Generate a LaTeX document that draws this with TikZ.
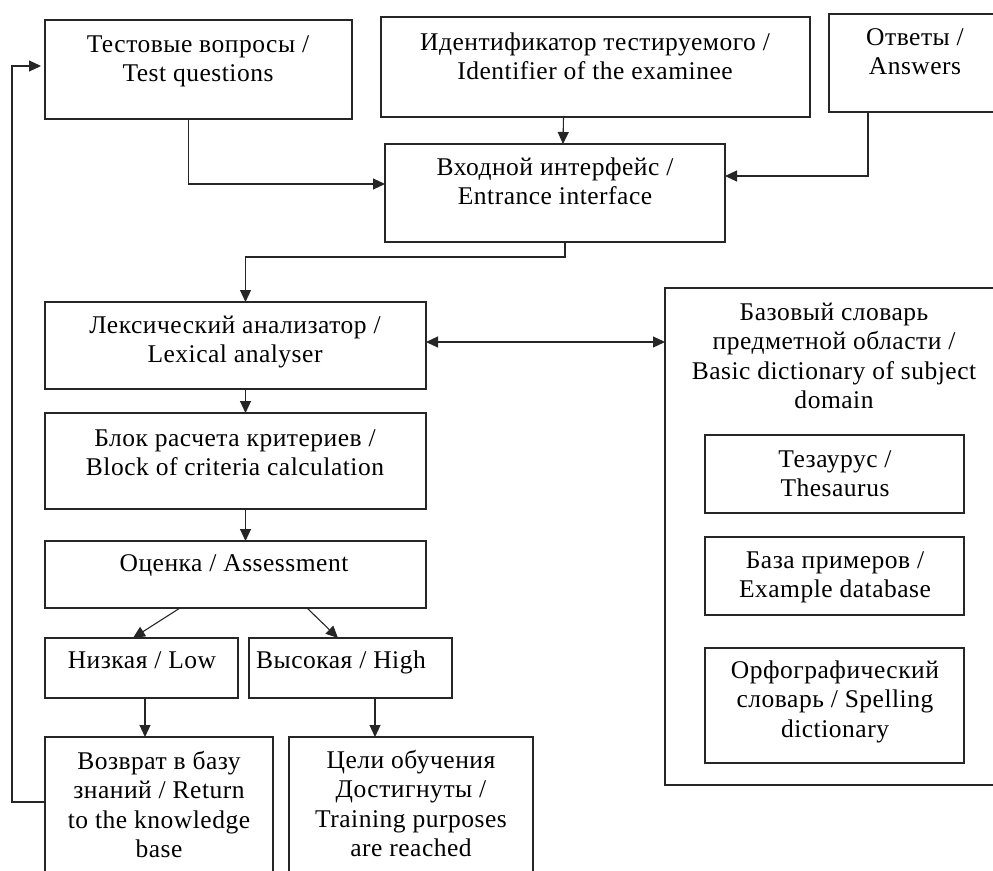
\documentclass[tikz,border=0pt]{standalone}
\usepackage{fontspec}
\setmainfont{Liberation Serif}[LetterSpace=2.0]
\usetikzlibrary{arrows.meta,calc}
\newcommand\bbox[5]{\node[box, minimum width={(#4-#2)*1pt}, minimum height={(#5-#3)*1pt}] (#1) at ({(#2+#4)/2},{(#3+#5)/2}) {};}
\begin{document}
\begin{tikzpicture}[x=1pt,y=-1pt,
  box/.style={draw=black!85, line width=1.1pt, inner sep=0pt, outer sep=0pt, rectangle},
  txt/.style={align=center, inner sep=0pt, font=\fontsize{25.5}{29.5}\selectfont, anchor=base},
  conn/.style={draw=black!85, line width=1.1pt},
  arr/.style={conn, -{Triangle[length=12pt,width=11pt]}},
  darr/.style={conn, {Triangle[length=12pt,width=11pt]}-{Triangle[length=12pt,width=11pt]}}]
\useasboundingbox (0,0) rectangle (993,870);
\clip (0,0) rectangle (993,870);
\fill[white] (0,0) rectangle (993,870);
% boxes
\bbox{q}{45}{20}{352}{119}
\bbox{id}{381}{17}{810}{117}
\bbox{ans}{829}{14}{1005}{112}
\bbox{inp}{385}{144}{725}{242}
\bbox{lex}{45}{302}{426}{389}
\bbox{blk}{45}{413}{426}{509}
\bbox{ass}{45}{541}{426}{608}
\bbox{low}{45}{638}{238}{698}
\bbox{high}{249}{638}{452}{698}
\bbox{ret}{45}{737}{273}{900}
\bbox{goal}{289}{737}{533}{900}
\bbox{dict}{665}{288}{1005}{785}
\bbox{thes}{705}{435}{964}{513}
\bbox{ex}{705}{537}{964}{615}
\bbox{sp}{705}{648}{964}{763}
% texts (anchor = baseline of the last line)
\node[txt] (qt) at (198,81.5) {Тестовые вопросы /\\Test questions};
\node[txt] (idt) at (595,79.5) {Идентификатор тестируемого /\\Identifier of the examinee};
\node[txt] (anst) at (915,74.5) {Ответы /\\Answers};
\node[txt] (inpt) at (555,204.5) {Входной интерфейс /\\Entrance interface};
\node[txt] (lext) at (235,362.5) {Лексический анализатор /\\Lexical analyser};
\node[txt] (blkt) at (235,475.5) {Блок расчета критериев /\\Block of criteria calculation};
\node[txt] (asst) at (234,571) {Оценка / Assessment};
\node[txt] (lowt) at (142,668) {Низкая / Low};
\node[txt] (hight) at (341,668) {Высокая / High};
\node[txt] (rett) at (159,857.5) {Возврат в базу\\знаний / Return\\to the knowledge\\base};
\node[txt] (goalt) at (411,856.5) {Цели обучения\\Достигнуты /\\Training purposes\\are reached};
\node[txt] (dictt) at (834,408.5) {Базовый словарь\\предметной области /\\Basic dictionary of subject\\domain};
\node[txt] (thest) at (835,496.5) {Тезаурус /\\Thesaurus};
\node[txt] (ext) at (835,597.5) {База примеров /\\Example database};
\node[txt] (spt) at (835,737) {Орфографический\\словарь / Spelling\\dictionary};
% connectors
\draw[arr] ([xshift=-10pt]q.south) |- ([yshift=9pt]inp.west);
\draw[arr] ([xshift=-32pt]id.south) -- ([xshift=8pt]inp.north);
\draw[arr] ([xshift=-49pt]ans.south) |- ([yshift=17pt]inp.east);
\draw[arr] ([xshift=10pt]inp.south) -- ++(0,15) -| ([xshift=10pt]lex.north);
\draw[darr] ([yshift=3.5pt]lex.east) -- ([yshift=3.5pt]lex.east -| dict.west);
\draw[arr] ([xshift=10pt]lex.south) -- ([xshift=10pt]blk.north);
\draw[arr] ([xshift=10pt]blk.south) -- ([xshift=10pt]ass.north);
\draw[arr] ([xshift=-55.5pt]ass.south) -- ([xshift=-8.5pt]low.north);
\draw[arr] ([xshift=71.5pt]ass.south) -- ([xshift=-12.5pt]high.north);
\draw[arr] ([xshift=3.5pt]low.south) -- ([xshift=-14pt]ret.north);
\draw[arr] ([xshift=24.5pt]high.south) -- ([xshift=-36pt]goal.north);
\draw[arr, shorten >=4pt] ([yshift=16.5pt]ret.west) -- ++(-33,0) |- ([yshift=3.5pt]q.west);
\end{tikzpicture}
\end{document}
